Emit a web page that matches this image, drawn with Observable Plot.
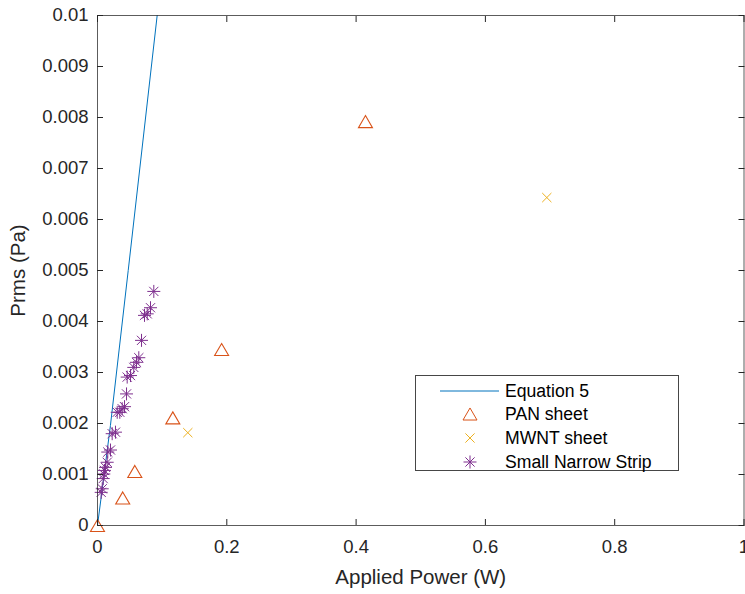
<!DOCTYPE html>
<html><head><meta charset="utf-8">
<script src="https://cdn.jsdelivr.net/npm/d3@7"></script>
<script src="https://cdn.jsdelivr.net/npm/@observablehq/plot@0.6"></script>
<style>body{margin:0;background:#fff}</style>
</head><body><div id="chart"></div>
<script>
// ---- data ----
const eqPower = [0, 0.02, 0.0475, 0.0923];
const eqPrms  = [0, 0.00196, 0.005, 0.01];

const panPower = [0, 0.039, 0.0577, 0.1165, 0.192, 0.4145];
const panPrms  = [0, 0.00054, 0.00106, 0.00211, 0.00345, 0.00792];

const mwntPower = [0.1397, 0.695];
const mwntPrms  = [0.00182, 0.00643];

const stripPower = [0.0871, 0.0820, 0.0769, 0.0727, 0.0681, 0.0639, 0.0603, 0.0561, 0.0510, 0.0459, 0.0449, 0.0418, 0.0382, 0.0345, 0.0305, 0.0278, 0.0227, 0.0201, 0.0159, 0.0150, 0.0124, 0.0108, 0.0098, 0.0088, 0.0073, 0.0057];
const stripPrms  = [0.00459, 0.00427, 0.00415, 0.00412, 0.00363, 0.00329, 0.00320, 0.00310, 0.00294, 0.00291, 0.00258, 0.00233, 0.00229, 0.00222, 0.00222, 0.00183, 0.00180, 0.00148, 0.00144, 0.00124, 0.00114, 0.00108, 0.00101, 0.00092, 0.00072, 0.00065];

const xTicks = [0, 0.2, 0.4, 0.6, 0.8, 1];
const xTickLabels = ["0", "0.2", "0.4", "0.6", "0.8", "1"];
const yTicks = [0, 0.001, 0.002, 0.003, 0.004, 0.005, 0.006, 0.007, 0.008, 0.009, 0.01];
const yTickLabels = ["0", "0.001", "0.002", "0.003", "0.004", "0.005", "0.006", "0.007", "0.008", "0.009", "0.01"];

const seriesNames = ["Equation 5", "PAN sheet", "MWNT sheet", "Small Narrow Strip"];
const seriesColors = ["#0072BD", "#D95319", "#EDB120", "#7E2F8E"];

// ---- tables ----
const eq = eqPower.map((x, i) => ({x, y: eqPrms[i]}));
const pan = panPower.map((x, i) => ({x, y: panPrms[i]}));
const mwnt = mwntPower.map((x, i) => ({x, y: mwntPrms[i]}));
const strip = stripPower.map((x, i) => ({x, y: stripPrms[i]}));

const xLab = new Map(xTicks.map((t, i) => [t.toFixed(4), xTickLabels[i]]));
const yLab = new Map(yTicks.map((t, i) => [t.toFixed(5), yTickLabels[i]]));

// ---- MATLAB-like marker symbols ----
const rad = s => Math.sqrt(s / Math.PI);
const triSym = {draw(c, s) { const r = rad(s); const h = r * 0.86; c.moveTo(0, -h); c.lineTo(r, h); c.lineTo(-r, h); c.closePath(); }};
const timesSym = {draw(c, s) { const r = rad(s); c.moveTo(-r, -r); c.lineTo(r, r); c.moveTo(-r, r); c.lineTo(r, -r); }};
const starSym = {draw(c, s) { const r = rad(s); const d = r * Math.SQRT1_2;
  c.moveTo(0, -r); c.lineTo(0, r); c.moveTo(-r, 0); c.lineTo(r, 0);
  c.moveTo(-d, -d); c.lineTo(d, d); c.moveTo(-d, d); c.lineTo(d, -d); }};

const axisColor = "#262626";
const font = "'Liberation Sans', Arial, Helvetica, sans-serif";

const chart = Plot.plot({
  width: 745, height: 594,
  marginLeft: 97, marginRight: 1.5, marginTop: 15, marginBottom: 69,
  style: {fontFamily: font, fontSize: "18.5px", color: axisColor, background: "#fff", overflow: "visible"},
  x: {domain: [0, 1]},
  y: {domain: [0, 0.01]},
  marks: [
    Plot.line(eq, {x: "x", y: "y", stroke: seriesColors[0], strokeWidth: 1}),
    Plot.dot(pan, {x: "x", y: "y", symbol: triSym, r: 7, stroke: seriesColors[1], strokeWidth: 1.1, fill: "none"}),
    Plot.dot(mwnt, {x: "x", y: "y", symbol: timesSym, r: 4.6, stroke: seriesColors[2], strokeWidth: 1, fill: "none"}),
    Plot.dot(strip, {x: "x", y: "y", symbol: starSym, r: 6.5, stroke: seriesColors[3], strokeWidth: 1, fill: "none"}),
    Plot.frame({stroke: axisColor, strokeOpacity: 0.75}),
    Plot.axisX(xTicks, {anchor: "bottom", tickSize: -6, tickPadding: 20, stroke: axisColor,
      tickFormat: d => xLab.get(d.toFixed(4)), label: null}),
    Plot.axisX({anchor: "bottom", ticks: [], label: "Applied Power (W)", labelAnchor: "center",
      labelArrow: "none", labelOffset: 58, fontSize: 20.5}),
    Plot.axisX(xTicks, {anchor: "top", tickSize: -6, stroke: axisColor, tickFormat: () => "", label: null}),
    Plot.axisY(yTicks, {anchor: "left", tickSize: -6, tickPadding: 15, stroke: axisColor,
      tickFormat: d => yLab.get(d.toFixed(5)), label: null}),
    Plot.axisY({anchor: "left", ticks: [], label: "Prms (Pa)", labelAnchor: "center",
      labelArrow: "none", labelOffset: 87, fontSize: 20.5}),
    Plot.axisY(yTicks, {anchor: "right", tickSize: -6, stroke: axisColor, tickFormat: () => "", label: null})
  ]
});

document.getElementById("chart").appendChild(chart);

// ---- legend box (inside the axes, like MATLAB) ----
const svg = d3.select(chart);
const lg = svg.append("g").attr("font-family", font).attr("font-size", "17.6px")
  .attr("fill", "#000").attr("text-anchor", "start");
lg.append("rect").attr("x", 415.5).attr("y", 375.5).attr("width", 263).attr("height", 95)
  .attr("fill", "#fff").attr("stroke", axisColor).attr("stroke-opacity", 0.85);
const rowsY = [391, 414, 438, 462];
const syms = [null, triSym, timesSym, starSym];
const symR = [0, 7, 4.6, 6.5];
seriesNames.forEach((name, i) => {
  const y = rowsY[i];
  if (i === 0) {
    lg.append("line").attr("x1", 440).attr("x2", 499).attr("y1", y).attr("y2", y)
      .attr("stroke", seriesColors[0]).attr("stroke-width", 1);
  } else {
    lg.append("path").attr("transform", `translate(470,${y})`)
      .attr("d", d3.symbol(syms[i], symR[i] * symR[i] * Math.PI)())
      .attr("fill", "none").attr("stroke", seriesColors[i]).attr("stroke-width", 1);
  }
  lg.append("text").attr("x", 505).attr("y", y).attr("dy", "0.35em").attr("text-anchor", "start").text(name);
});
</script>
</body></html>
